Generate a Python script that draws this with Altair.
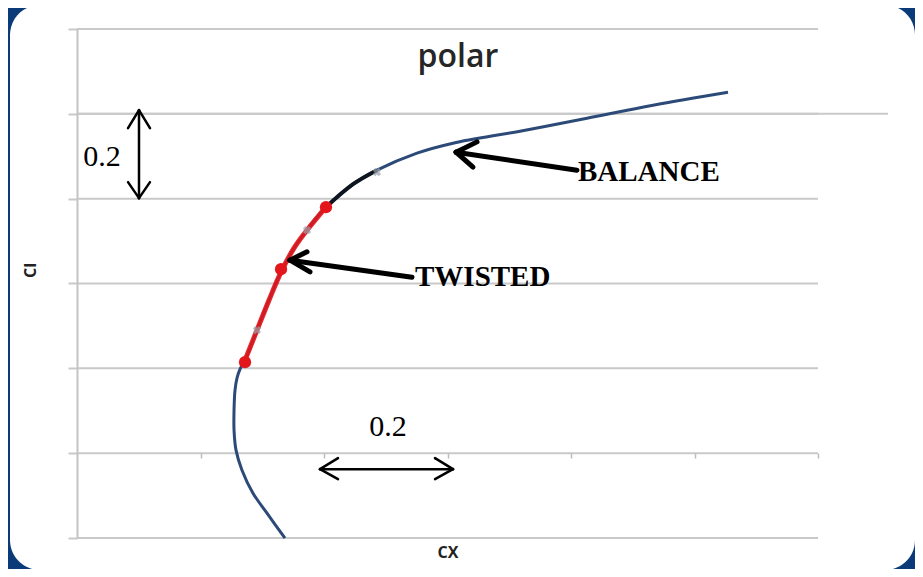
import altair as alt
import pandas as pd

# ---- data ----
curve_cx = [0.3368, 0.3077, 0.2850, 0.2672, 0.2575, 0.2543, 0.2543, 0.2559, 0.2591, 0.2640,
            0.2721, 0.2915, 0.3109, 0.3304, 0.3514, 0.3725, 0.4032, 0.4470, 0.4858, 0.5506,
            0.6089, 0.7174, 0.8259, 0.9328, 1.0543]
curve_cl = [-0.2004, -0.1415, -0.0943, -0.0401, 0.0071, 0.0542, 0.1014, 0.1485, 0.1768, 0.1980,
            0.2193, 0.2900, 0.3607, 0.4267, 0.4833, 0.5257, 0.5800, 0.6342, 0.6672, 0.7073,
            0.7308, 0.7591, 0.7898, 0.8204, 0.8511]
red_start, red_end = 10, 16      # indices of the red (twisted) segment
black_start, black_end = 16, 18  # indices of the black segment

dots_cx = [0.2721, 0.3304, 0.4032]
dots_cl = [0.2145, 0.4338, 0.5800]

marks_cx = [0.4858, 0.3725, 0.2915]
marks_cl = [0.6625, 0.5257, 0.2900]

grid_cl = [-0.2, 0.0, 0.2, 0.4, 0.6, 0.8, 1.0]
xtick_cx = [0.2, 0.4, 0.6, 0.8, 1.0, 1.2]

# arrows: segments (x1, y1, x2, y2) in data units
arrow_thick = [
    # BALANCE arrow
    (0.8097, 0.6672, 0.6138, 0.7096),
    (0.6138, 0.7096, 0.6478, 0.7339),
    (0.6138, 0.7096, 0.6413, 0.6743),
    # TWISTED arrow
    (0.5425, 0.4149, 0.3449, 0.4550),
    (0.3449, 0.4550, 0.3725, 0.4746),
    (0.3449, 0.4550, 0.3773, 0.4274),
]
arrow_thin = [
    # vertical double arrow
    (0.1004, 0.8086, 0.1004, 0.6012),
    (0.1004, 0.8086, 0.0826, 0.7662),
    (0.1004, 0.8086, 0.1182, 0.7662),
    (0.1004, 0.6012, 0.0826, 0.6389),
    (0.1004, 0.6012, 0.1182, 0.6389),
    # horizontal double arrow
    (0.3935, -0.0377, 0.6089, -0.0377),
    (0.3935, -0.0377, 0.4227, -0.0118),
    (0.3935, -0.0377, 0.4227, -0.0613),
    (0.6089, -0.0377, 0.5798, -0.0118),
    (0.6089, -0.0377, 0.5798, -0.0613),
]

labels_txt = ["0.2", "0.2"]
labels_cx = [0.0405, 0.5036]
labels_cl = [0.6978, 0.0613]

notes_txt = ["BALANCE", "TWISTED"]
notes_cx = [0.8113, 0.5474]
notes_cl = [0.6625, 0.4149]

title_txt = "polar"
title_cx, title_cl = 0.6170, 0.9336

# ---- tables ----
curve = pd.DataFrame({"cx": curve_cx, "cl": curve_cl, "i": range(len(curve_cx))})
red = curve.iloc[red_start:red_end + 1]
black = curve.iloc[black_start:black_end + 1]
dots = pd.DataFrame({"cx": dots_cx, "cl": dots_cl})
xm = pd.DataFrame({"cx": marks_cx, "cl": marks_cl})
grid = pd.DataFrame({"v": grid_cl})
thick = pd.DataFrame(arrow_thick, columns=["x1", "y1", "x2", "y2"])
thin = pd.DataFrame(arrow_thin, columns=["x1", "y1", "x2", "y2"])
labels = pd.DataFrame({"t": labels_txt, "cx": labels_cx, "cl": labels_cl})
notes = pd.DataFrame({"t": notes_txt, "cx": notes_cx, "cl": notes_cl})
ttl = pd.DataFrame({"t": [title_txt], "cx": [title_cx], "cl": [title_cl]})

xs = alt.Scale(domain=[0, 1.2], nice=False, zero=False)
ys = alt.Scale(domain=[-0.2, 1.0], nice=False, zero=False)

x_axis = alt.Axis(values=xtick_cx, labels=False, grid=False, domain=False,
                  ticks=True, tickSize=5, tickColor="#bdbdbd", tickWidth=1.5,
                  offset=-85, titleY=99, titleBaseline="middle",
                  titleFont="Open Sans", titleFontSize=16, titleFontWeight="bold",
                  titleColor="#222", zindex=1)
y_axis = alt.Axis(values=grid_cl, labels=False, grid=False, domain=True,
                  domainColor="#c4c4c4", domainWidth=2, ticks=True, tickSize=9,
                  tickColor="#c9c9c9", tickWidth=2, titleX=-47, titleY=241,
                  titleBaseline="middle", titleAngle=270,
                  titleFont="Open Sans", titleFontSize=16, titleFontWeight="bold",
                  titleColor="#222", zindex=1)


def X(f):
    return alt.X(f, type="quantitative", scale=xs, title="CX", axis=x_axis)


def Y(f):
    return alt.Y(f, type="quantitative", scale=ys, title="Cl", axis=y_axis)


panel = alt.Chart(alt.Data(values=[{}])).mark_rect(
    color="white", cornerRadius=30
).encode(x=alt.value(-67), x2=alt.value(838), y=alt.value(-24), y2=alt.value(541))

gridlines = alt.Chart(grid).mark_rule(color="#c9c9c9", strokeWidth=2).encode(y=Y("v"))
extra_line = alt.Chart(pd.DataFrame({"v": [0.8]})).mark_rule(
    color="#c9c9c9", strokeWidth=2
).encode(y=Y("v"), x=alt.value(0), x2=alt.value(811))

base_line = alt.Chart(curve).mark_line(
    color="#2c4a77", strokeWidth=3, interpolate="catmull-rom"
).encode(x=X("cx"), y=Y("cl"), order="i:Q")

red_line = alt.Chart(red).mark_line(
    color="#e3161b", strokeWidth=5, opacity=0.9, interpolate="catmull-rom"
).encode(x=X("cx"), y=Y("cl"), order="i:Q")

black_line = alt.Chart(black).mark_line(
    color="#0d1520", strokeWidth=4, interpolate="catmull-rom"
).encode(x=X("cx"), y=Y("cl"), order="i:Q")

xmarks = alt.Chart(xm).mark_point(
    shape="cross", angle=45, size=70, color="#9aa3ad", filled=True, opacity=0.7
).encode(x=X("cx"), y=Y("cl"))

red_dots = alt.Chart(dots).mark_circle(size=150, color="#e3161b", opacity=1).encode(
    x=X("cx"), y=Y("cl"))

thick_arrows = alt.Chart(thick).mark_rule(color="black", strokeWidth=5, strokeCap="round").encode(
    x=X("x1"), y=Y("y1"), x2="x2:Q", y2="y2:Q")

thin_arrows = alt.Chart(thin).mark_rule(color="black", strokeWidth=2.5, strokeCap="round").encode(
    x=X("x1"), y=Y("y1"), x2="x2:Q", y2="y2:Q")

label_text = alt.Chart(labels).mark_text(
    font="Liberation Serif", fontSize=30, color="black", align="center", baseline="middle"
).encode(x=X("cx"), y=Y("cl"), text="t:N")

note_text = alt.Chart(notes).mark_text(
    font="Liberation Serif", fontSize=29, fontWeight="bold", color="black",
    align="left", baseline="middle"
).encode(x=X("cx"), y=Y("cl"), text="t:N")

title_text = alt.Chart(ttl).mark_text(
    font="Open Sans", fontSize=32, fontWeight=600, color="#262626",
    align="center", baseline="middle"
).encode(x=X("cx"), y=Y("cl"), text="t:N")

chart = alt.layer(
    panel, gridlines, extra_line, base_line, red_line, black_line, xmarks, red_dots,
    thick_arrows, thin_arrows, label_text, note_text, title_text
).properties(
    width=741, height=509,
    padding={"left": 69, "top": 21, "right": 97, "bottom": 31},
    autosize="none",
    background="#0b3a78",
).configure_view(stroke=None)

chart.save("out.html", embed_options={"renderer": "svg", "actions": False})
